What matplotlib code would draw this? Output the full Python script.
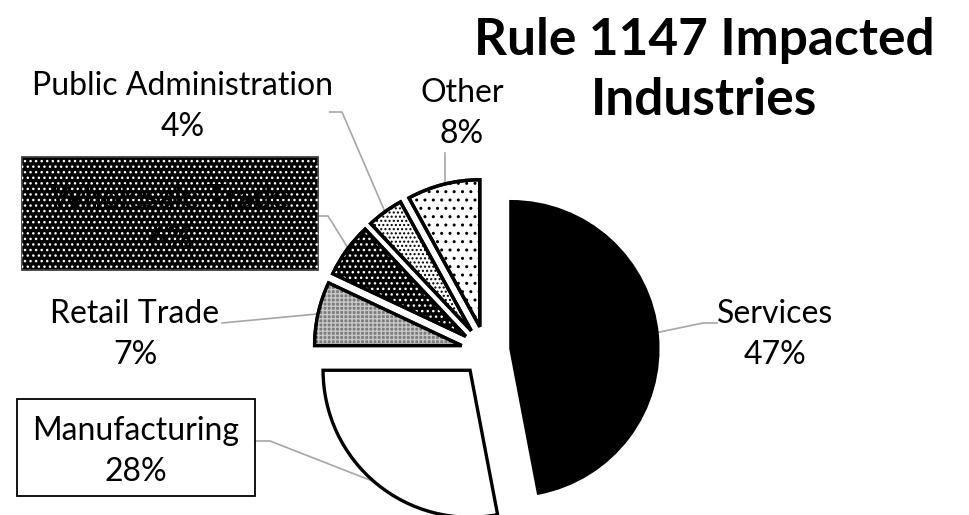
import matplotlib.pyplot as plt
from matplotlib.patches import Wedge, Rectangle

plt.rcParams['font.family'] = ['Lato', 'DejaVu Sans']

# data
industries = ['Services', 'Manufacturing', 'Retail Trade', 'Wholesale Trade',
              'Public Administration', 'Other']
shares = [47, 28, 7, 6, 4, 8]
pct_labels = [f'{s}%' for s in shares]
title_lines = ['Rule 1147 Impacted', 'Industries']

W, H = 969, 515
fig = plt.figure(figsize=(W / 100, H / 100), dpi=100)
ax = fig.add_axes([0, 0, 1, 1])


def py(y):
    # pixel row (from top) -> data y
    return H - y


wedges, _ = ax.pie(shares, startangle=90, counterclock=False,
                   center=(486, py(351)), radius=147, explode=[25] * len(shares),
                   wedgeprops=dict(edgecolor='black', linewidth=2.4))

faces = ['black', 'white', '#7c7c7c', 'black', 'white', 'white']
hatches = [None, None, '++++', '...', '....', '..']
hatch_cols = [None, None, '#c8c8c8', 'white', 'black', 'black']

for w, fc, h, hc in zip(wedges, faces, hatches, hatch_cols):
    w.set_facecolor(fc)
    if h:
        ax.add_patch(Wedge(w.center, w.r, w.theta1, w.theta2, facecolor='none',
                           edgecolor=hc, linewidth=0, hatch=h))
        ax.add_patch(Wedge(w.center, w.r, w.theta1, w.theta2, facecolor='none',
                           edgecolor='black', linewidth=2.4))

# label boxes
ax.add_patch(Rectangle((17, py(496)), 238, 97, facecolor='white',
                       edgecolor='black', linewidth=1.3))
ax.add_patch(Rectangle((22, py(270)), 296, 113, facecolor='black',
                       edgecolor='#404040', linewidth=1.3))
ax.add_patch(Rectangle((22, py(270)), 296, 113, facecolor='none',
                       edgecolor='white', linewidth=0, hatch='...'))

# label positions: (x center, baseline of first line) in pixels
label_pos = [(775, 323), (136, 440), (135, 323), (170, 208), (183, 95), (462, 102)]
for name, pct, (x, y) in zip(industries, pct_labels, label_pos):
    ax.text(x, py(y), name, ha='center', va='baseline', fontsize=23)
    ax.text(x, py(y + 41), pct, ha='center', va='baseline', fontsize=23)

# leader lines
leaders = [
    [(655, 333), (703, 323), (717, 323)],
    [(255, 441), (270, 441), (380, 484)],
    [(222, 323), (317, 314)],
    [(318, 216), (328, 216), (348, 248)],
    [(330, 112), (342, 112), (385, 212)],
    [(445, 153), (445, 185)],
]
for pts in leaders:
    xs = [p[0] for p in pts]
    ys = [py(p[1]) for p in pts]
    ax.plot(xs, ys, color='#a6a6a6', linewidth=1.2, zorder=0.5)

# title
ax.text(704, py(55), title_lines[0], ha='center', va='baseline',
        fontsize=37, fontweight='bold')
ax.text(704, py(115), title_lines[1], ha='center', va='baseline',
        fontsize=37, fontweight='bold')

ax.set_xlim(0, W)
ax.set_ylim(0, H)
ax.axis('off')

fig.savefig('out.png', dpi=100)
